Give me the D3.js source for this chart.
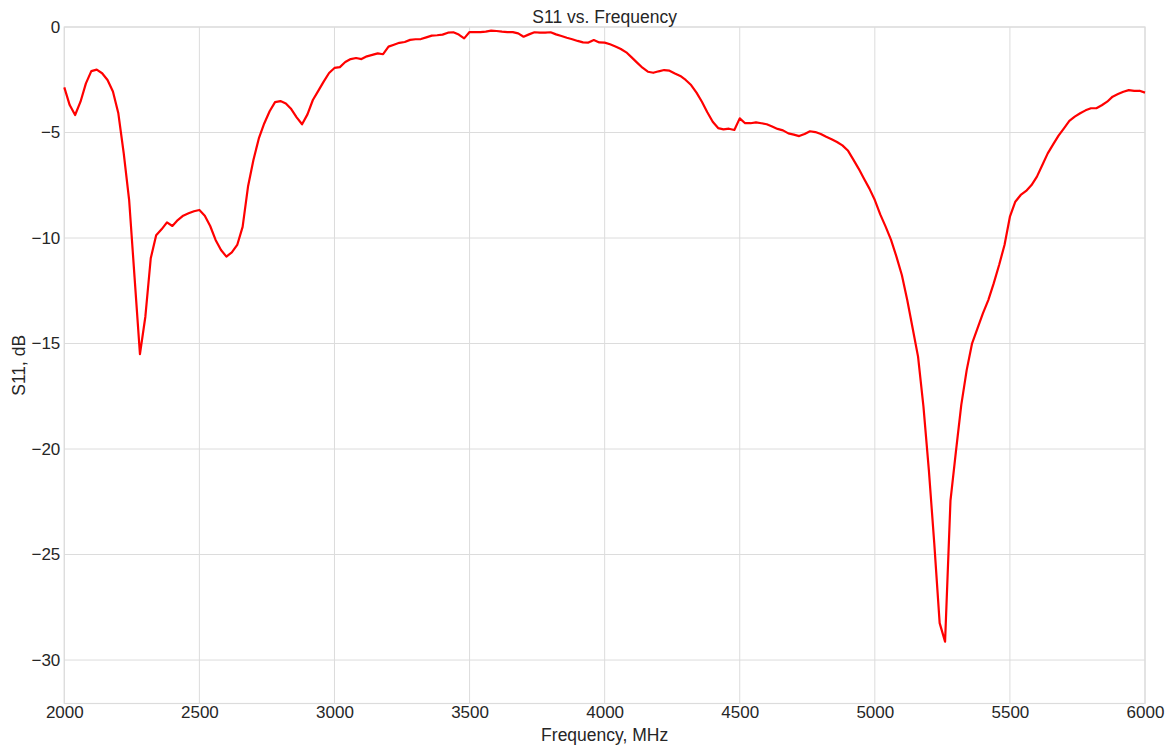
<!DOCTYPE html>
<html>
<head>
<meta charset="utf-8">
<script src="https://cdn.jsdelivr.net/npm/d3@7"></script>
<style>
  html, body { margin: 0; padding: 0; background: #fff; }
  text { font-family: "Liberation Sans", Arial, sans-serif; }
</style>
</head>
<body>
<svg id="chart" width="1173" height="748"></svg>
<script>
const freqMHz = [
  2000,2020,2040,2060,2080,2100,2120,2140,2160,2180,
  2200,2220,2240,2260,2280,2300,2320,2340,2360,2380,
  2400,2420,2440,2460,2480,2500,2520,2540,2560,2580,
  2600,2620,2640,2660,2680,2700,2720,2740,2760,2780,
  2800,2820,2840,2860,2880,2900,2920,2940,2960,2980,
  3000,3020,3040,3060,3080,3100,3120,3140,3160,3180,
  3200,3220,3240,3260,3280,3300,3320,3340,3360,3380,
  3400,3420,3440,3460,3480,3500,3520,3540,3560,3580,
  3600,3620,3640,3660,3680,3700,3720,3740,3760,3780,
  3800,3820,3840,3860,3880,3900,3920,3940,3960,3980,
  4000,4020,4040,4060,4080,4100,4120,4140,4160,4180,
  4200,4220,4240,4260,4280,4300,4320,4340,4360,4380,
  4400,4420,4440,4460,4480,4500,4520,4540,4560,4580,
  4600,4620,4640,4660,4680,4700,4720,4740,4760,4780,
  4800,4820,4840,4860,4880,4900,4920,4940,4960,4980,
  5000,5020,5040,5060,5080,5100,5120,5140,5160,5180,
  5200,5220,5240,5260,5280,5300,5320,5340,5360,5380,
  5400,5420,5440,5460,5480,5500,5520,5540,5560,5580,
  5600,5620,5640,5660,5680,5700,5720,5740,5760,5780,
  5800,5820,5840,5860,5880,5900,5920,5940,5960,5980,
  6000
];
const s11dB = [
  -2.86,-3.70,-4.17,-3.54,-2.67,-2.09,-2.02,-2.19,-2.51,-3.06,
  -4.09,-5.99,-8.20,-11.85,-15.50,-13.73,-10.96,-9.87,-9.59,-9.26,
  -9.43,-9.15,-8.94,-8.83,-8.73,-8.67,-8.94,-9.43,-10.09,-10.57,
  -10.88,-10.68,-10.33,-9.47,-7.56,-6.30,-5.28,-4.57,-3.99,-3.56,
  -3.51,-3.62,-3.89,-4.28,-4.61,-4.14,-3.46,-3.03,-2.59,-2.18,
  -1.94,-1.90,-1.66,-1.52,-1.47,-1.52,-1.39,-1.32,-1.25,-1.29,
  -0.93,-0.84,-0.75,-0.71,-0.61,-0.58,-0.57,-0.49,-0.41,-0.39,
  -0.36,-0.27,-0.25,-0.36,-0.54,-0.24,-0.24,-0.24,-0.22,-0.17,
  -0.19,-0.22,-0.24,-0.24,-0.30,-0.46,-0.35,-0.25,-0.27,-0.27,
  -0.25,-0.35,-0.43,-0.51,-0.58,-0.66,-0.73,-0.74,-0.62,-0.73,
  -0.74,-0.82,-0.92,-1.04,-1.20,-1.44,-1.69,-1.93,-2.12,-2.17,
  -2.10,-2.04,-2.07,-2.20,-2.32,-2.51,-2.75,-3.11,-3.54,-4.04,
  -4.49,-4.79,-4.85,-4.82,-4.88,-4.33,-4.56,-4.56,-4.52,-4.56,
  -4.61,-4.72,-4.83,-4.90,-5.04,-5.10,-5.17,-5.07,-4.94,-4.98,
  -5.07,-5.20,-5.32,-5.45,-5.61,-5.85,-6.27,-6.71,-7.19,-7.66,
  -8.20,-8.88,-9.46,-10.09,-10.88,-11.75,-12.94,-14.28,-15.62,-17.99,
  -21.00,-24.47,-28.25,-29.13,-22.45,-20.13,-17.91,-16.26,-14.99,-14.28,
  -13.57,-12.94,-12.15,-11.28,-10.33,-8.99,-8.28,-7.96,-7.77,-7.49,
  -7.09,-6.54,-5.99,-5.56,-5.15,-4.80,-4.45,-4.25,-4.09,-3.95,
  -3.85,-3.85,-3.71,-3.54,-3.30,-3.18,-3.07,-2.99,-3.03,-3.02,
  -3.11
];
const xTicks = [2000,2500,3000,3500,4000,4500,5000,5500,6000];
const yTicks = [0,-5,-10,-15,-20,-25,-30];
const titleText = "S11 vs. Frequency";
const xLabelText = "Frequency, MHz";
const yLabelText = "S11, dB";

const W = 1173, H = 748;
const m = {left: 64.3, right: 28, top: 27, bottom: 44.5};
const svg = d3.select("#chart");

const x = d3.scaleLinear().domain([2000, 6000]).range([m.left, W - m.right]);
const y = d3.scaleLinear().domain([-32.06, 0]).range([H - m.bottom, m.top]);

const gridColor = "#dcdcdc";
const textColor = "#262626";
const fmt = d3.format("");

// grid
svg.append("g").selectAll("line.v").data(xTicks).join("line")
  .attr("x1", d => x(d)).attr("x2", d => x(d))
  .attr("y1", m.top).attr("y2", H - m.bottom)
  .attr("stroke", gridColor).attr("stroke-width", 1);
svg.append("g").selectAll("line.h").data(yTicks).join("line")
  .attr("x1", m.left).attr("x2", W - m.right)
  .attr("y1", d => y(d)).attr("y2", d => y(d))
  .attr("stroke", gridColor).attr("stroke-width", 1);

// frame
svg.append("rect")
  .attr("x", m.left).attr("y", m.top)
  .attr("width", W - m.right - m.left).attr("height", H - m.bottom - m.top)
  .attr("fill", "none").attr("stroke", gridColor).attr("stroke-width", 1.2);

// axes (ticks text via d3 axes)
const xAxis = svg.append("g")
  .attr("transform", `translate(0,${H - m.bottom})`)
  .call(d3.axisBottom(x).tickValues(xTicks).tickFormat(fmt).tickSize(0).tickPadding(2));
const yAxis = svg.append("g")
  .attr("transform", `translate(${m.left},0)`)
  .call(d3.axisLeft(y).tickValues(yTicks).tickFormat(d3.format("")).tickSize(0).tickPadding(4));
[xAxis, yAxis].forEach(a => {
  a.select(".domain").remove();
  a.selectAll("text").attr("fill", textColor).style("font-size", "17px")
    .style("font-family", "'Liberation Sans', Arial, sans-serif");
});
xAxis.selectAll("text").attr("dy", "0.76em");

// line
const line = d3.line().x((d, i) => x(freqMHz[i])).y(d => y(d));
svg.append("path")
  .datum(s11dB)
  .attr("d", line)
  .attr("fill", "none")
  .attr("stroke", "#ff0000")
  .attr("stroke-width", 2.2)
  .attr("stroke-linejoin", "round");

// title & labels
svg.append("text").attr("x", (m.left + W - m.right) / 2).attr("y", 23)
  .attr("text-anchor", "middle").attr("fill", textColor)
  .style("font-size", "17.5px").text(titleText);
svg.append("text").attr("x", (m.left + W - m.right) / 2).attr("y", 741)
  .attr("text-anchor", "middle").attr("fill", textColor)
  .style("font-size", "17.5px").text(xLabelText);
svg.append("text")
  .attr("transform", `translate(25,${(m.top + H - m.bottom) / 2}) rotate(-90)`)
  .attr("text-anchor", "middle").attr("fill", textColor)
  .style("font-size", "17.5px").text(yLabelText);
</script>
</body>
</html>
